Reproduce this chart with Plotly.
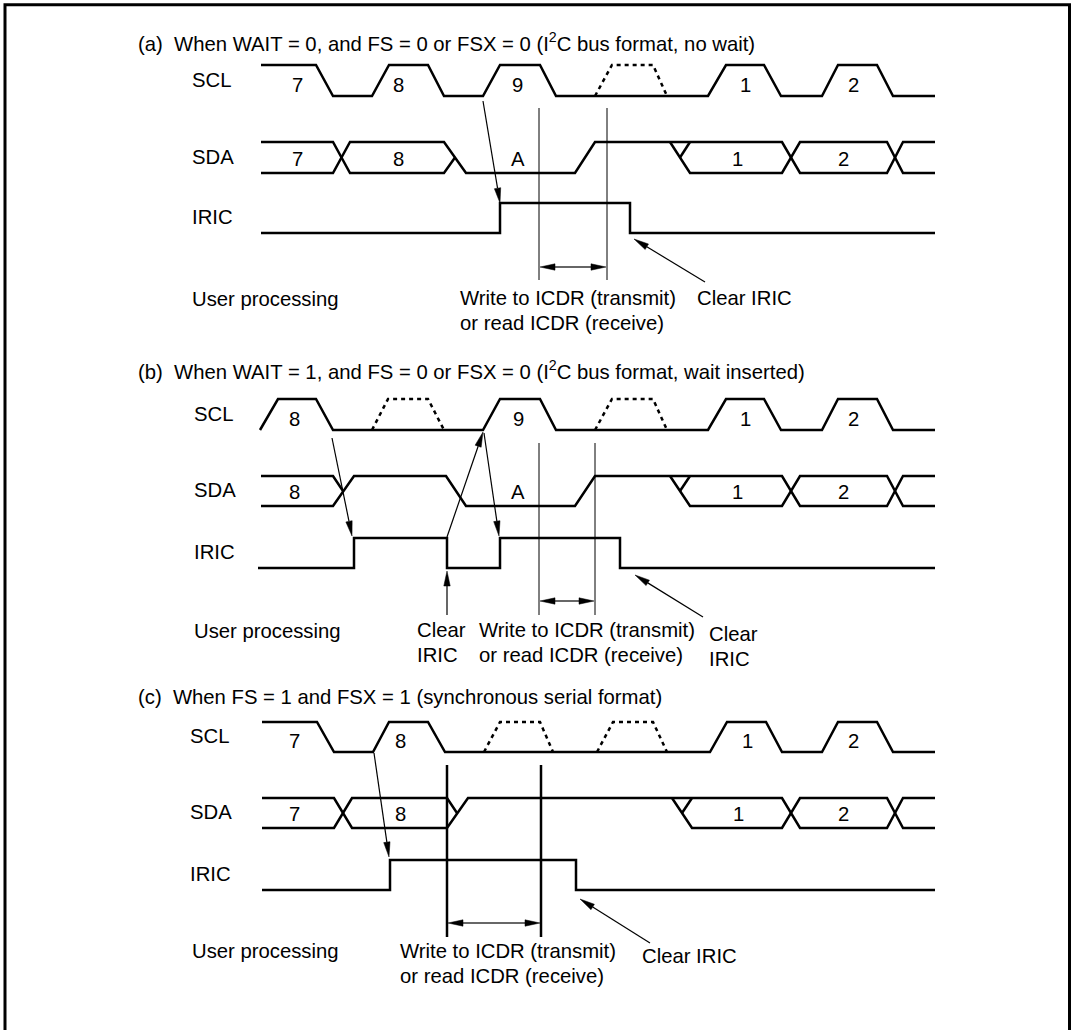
import math
import plotly.graph_objects as go

W, H = 1072, 1030

# ---------------- signal levels: (high, low) per row ----------------
LEVELS_A = {"SCL": (65, 96), "SDA": (142, 173), "IRIC": (203, 233)}
LEVELS_B = {"SCL": (399, 430), "SDA": (476, 506), "IRIC": (538, 568)}
LEVELS_C = {"SCL": (722, 752), "SDA": (798, 828), "IRIC": (860, 890)}

# ---------------- panel (a) ----------------
SCL_A_T = [261, 316, 333, 372, 389, 428, 444, 483, 500, 540, 556, 708, 726, 764, 781, 822, 838, 877, 893, 935]
SCL_A_V = [1, 1, 0, 0, 1, 1, 0, 0, 1, 1, 0, 0, 1, 1, 0, 0, 1, 1, 0, 0]
SCL_A_DASH_T = [595, 612, 653, 667]
SCL_A_DASH_V = [0, 1, 1, 0]
SCL_A_LABELS = ["7", "8", "9", "1", "2"]
SCL_A_LABEL_T = [297, 398, 517, 745, 853]

SDA_A_T = [261, 333, 350, 444, 455, None,
           261, 333, 350, 444, 466, 575, 595, 782, 800, 887, 903, 935, None,
           670, 690, 782, 800, 887, 903, 935, None,
           680, 690]
SDA_A_V = [1, 1, 0, 0, 0.5, None,
           0, 0, 1, 1, 0, 0, 1, 1, 0, 0, 1, 1, None,
           1, 0, 0, 1, 1, 0, 0, None,
           0.5, 1]
SDA_A_LABELS = ["7", "8", "A", "1", "2"]
SDA_A_LABEL_T = [297, 398, 518, 737, 843]

IRIC_A_T = [261, 500, 500, 630, 630, 935]
IRIC_A_V = [0, 0, 1, 1, 0, 0]

# ---------------- panel (b) ----------------
SCL_B_T = [260, 278, 316, 333, 483, 500, 540, 556, 708, 726, 764, 781, 822, 838, 877, 893, 935]
SCL_B_V = [0, 1, 1, 0, 0, 1, 1, 0, 0, 1, 1, 0, 0, 1, 1, 0, 0]
SCL_B_DASH_T = [372, 388, 428, 444, None, 595, 612, 653, 667]
SCL_B_DASH_V = [0, 1, 1, 0, None, 0, 1, 1, 0]
SCL_B_LABELS = ["8", "9", "1", "2"]
SCL_B_LABEL_T = [294, 518, 745, 853]

SDA_B_T = [261, 333, 343, None,
           261, 333, 354, 446, 466, 575, 595, 782, 800, 887, 903, 935, None,
           670, 690, 782, 800, 887, 903, 935, None,
           680, 690]
SDA_B_V = [1, 1, 0.5, None,
           0, 0, 1, 1, 0, 0, 1, 1, 0, 0, 1, 1, None,
           1, 0, 0, 1, 1, 0, 0, None,
           0.5, 1]
SDA_B_LABELS = ["8", "A", "1", "2"]
SDA_B_LABEL_T = [294, 518, 737, 843]

IRIC_B_T = [258, 354, 354, 447, 447, 500, 500, 620, 620, 935]
IRIC_B_V = [0, 0, 1, 1, 0, 0, 1, 1, 0, 0]

# ---------------- panel (c) ----------------
SCL_C_T = [262, 317, 334, 373, 389, 428, 445, 710, 727, 766, 782, 822, 838, 877, 893, 935]
SCL_C_V = [1, 1, 0, 0, 1, 1, 0, 0, 1, 1, 0, 0, 1, 1, 0, 0]
SCL_C_DASH_T = [484, 500, 540, 553, None, 597, 613, 653, 667]
SCL_C_DASH_V = [0, 1, 1, 0, None, 0, 1, 1, 0]
SCL_C_LABELS = ["7", "8", "1", "2"]
SCL_C_LABEL_T = [294, 400, 747, 853]

SDA_C_T = [262, 334, 352, 447, 468, 782, 800, 887, 903, 935, None,
           262, 334, 352, 447, 457, None,
           672, 692, 782, 800, 887, 903, 935, None,
           682, 692]
SDA_C_V = [1, 1, 0, 0, 1, 1, 0, 0, 1, 1, None,
           0, 0, 1, 1, 0.5, None,
           1, 0, 0, 1, 1, 0, 0, None,
           0.5, 1]
SDA_C_LABELS = ["7", "8", "1", "2"]
SDA_C_LABEL_T = [294, 400, 738, 843]

IRIC_C_T = [262, 390, 390, 576, 576, 935]
IRIC_C_V = [0, 0, 1, 1, 0, 0]

# ---------------- annotations: arrows, markers, texts ----------------
ARROWS = [  # (tail x, tail y, head x, head y)
    (483, 101, 500, 203), (705, 282, 634, 239),
    (332, 438, 352, 536), (447, 537, 483, 432), (484, 433, 499, 536),
    (447, 615, 447, 571), (703, 617, 635, 575),
    (374, 753, 389, 857), (650, 943, 580, 899),
]
DOUBLE_ARROWS = [(539, 607, 267), (539, 595, 601), (447, 541, 923)]
VLINES = [(539, 108, 280, 1), (607, 108, 280, 1),
          (539, 443, 615, 1), (595, 443, 615, 1),
          (447, 765, 937, 2.5), (541, 765, 937, 2.5)]

NB = "\u00a0"
TITLES = [
    ("(a)" + NB * 2 + "When WAIT = 0, and FS = 0 or FSX = 0 (I<sup>2</sup>C bus format, no wait)", 136, 42),
    ("(b)" + NB * 2 + "When WAIT = 1, and FS = 0 or FSX = 0 (I<sup>2</sup>C bus format, wait inserted)", 136, 370),
    ("(c)" + NB * 2 + "When FS = 1 and FSX = 1 (synchronous serial format)", 136, 697),
]
NOTES = [
    ("User processing", 190, 299), ("Write to ICDR (transmit)", 458, 298),
    ("or read ICDR (receive)", 458, 323), ("Clear IRIC", 695, 298),
    ("User processing", 192, 631), ("Clear", 415, 630), ("IRIC", 415, 655),
    ("Write to ICDR (transmit)", 477, 630), ("or read ICDR (receive)", 477, 655),
    ("Clear", 707, 634), ("IRIC", 707, 659),
    ("User processing", 190, 951), ("Write to ICDR (transmit)", 398, 951),
    ("or read ICDR (receive)", 398, 976), ("Clear IRIC", 640, 956),
]

FONT = "Liberation Sans, Arial, Helvetica, sans-serif"
FS = 20.3
LW = 2.5

fig = go.Figure()
shapes = []
annotations = []


def ylev(vals, lv):
    hi, lo = lv
    return [None if v is None else lo - v * (lo - hi) for v in vals]


def add_wave(t, v, lv, dash=None, width=LW):
    fig.add_trace(go.Scatter(x=t, y=ylev(v, lv), mode="lines", connectgaps=False,
                             line=dict(color="black", width=width, dash=dash),
                             hoverinfo="skip", showlegend=False))


def add_text(text, x, y, xanchor="left"):
    annotations.append(dict(x=x, y=y, xref="x", yref="y", text=text, showarrow=False,
                            xanchor=xanchor, yanchor="middle",
                            font=dict(family=FONT, size=FS, color="black")))


def add_arrow(x0, y0, x1, y1, hl=15, hw=3.2):
    dx, dy = x1 - x0, y1 - y0
    L = math.hypot(dx, dy)
    ux, uy = dx / L, dy / L
    bx, by = x1 - ux * hl, y1 - uy * hl
    px, py = -uy * hw, ux * hw
    shapes.append(dict(type="line", xref="x", yref="y", x0=x0, y0=y0, x1=bx, y1=by,
                       line=dict(color="black", width=1.2)))
    shapes.append(dict(type="path", xref="x", yref="y",
                       path=f"M{x1},{y1} L{bx + px},{by + py} L{bx - px},{by - py} Z",
                       fillcolor="black", line=dict(color="black", width=0.5)))


panels = [
    (LEVELS_A, SCL_A_T, SCL_A_V, SCL_A_DASH_T, SCL_A_DASH_V, SCL_A_LABELS, SCL_A_LABEL_T,
     SDA_A_T, SDA_A_V, SDA_A_LABELS, SDA_A_LABEL_T, IRIC_A_T, IRIC_A_V, 190),
    (LEVELS_B, SCL_B_T, SCL_B_V, SCL_B_DASH_T, SCL_B_DASH_V, SCL_B_LABELS, SCL_B_LABEL_T,
     SDA_B_T, SDA_B_V, SDA_B_LABELS, SDA_B_LABEL_T, IRIC_B_T, IRIC_B_V, 192),
    (LEVELS_C, SCL_C_T, SCL_C_V, SCL_C_DASH_T, SCL_C_DASH_V, SCL_C_LABELS, SCL_C_LABEL_T,
     SDA_C_T, SDA_C_V, SDA_C_LABELS, SDA_C_LABEL_T, IRIC_C_T, IRIC_C_V, 188),
]

for (lv, st, sv, sdt, sdv, slab, slt, dt, dv, dlab, dlt, it, iv, labx) in panels:
    add_wave(st, sv, lv["SCL"])
    add_wave(sdt, sdv, lv["SCL"], dash="4px,4px")
    add_wave(dt, dv, lv["SDA"])
    add_wave(it, iv, lv["IRIC"])
    for name in ("SCL", "SDA", "IRIC"):
        hi, lo = lv[name]
        add_text(name, labx, (hi + lo) / 2 - 1)
    hi, lo = lv["SCL"]
    for lab, x in zip(slab, slt):
        add_text(lab, x, (hi + lo) / 2 + 4, "center")
    hi, lo = lv["SDA"]
    for lab, x in zip(dlab, dlt):
        add_text(lab, x, (hi + lo) / 2 + 1, "center")

for (x, y0, y1, w) in VLINES:
    shapes.append(dict(type="line", xref="x", yref="y", x0=x, y0=y0, x1=x, y1=y1,
                       line=dict(color="black", width=w)))

for a in ARROWS:
    add_arrow(*a)

for (xa, xb, y) in DOUBLE_ARROWS:
    mid = (xa + xb) / 2
    add_arrow(mid, y, xa + 1, y)
    add_arrow(mid, y, xb - 1, y)

for (t, x, y) in TITLES:
    add_text(t, x, y)
for (t, x, y) in NOTES:
    add_text(t, x, y)

# outer frame
shapes.append(dict(type="rect", xref="paper", yref="paper", x0=5 / W, x1=1069.5 / W,
                   y0=-0.02, y1=1 - 4.7 / H, line=dict(color="black", width=3)))

fig.update_layout(
    width=W, height=H, margin=dict(l=0, r=0, t=0, b=0),
    paper_bgcolor="white", plot_bgcolor="white",
    xaxis=dict(range=[0, W], visible=False, fixedrange=True),
    yaxis=dict(range=[H, 0], visible=False, fixedrange=True),
    shapes=shapes, annotations=annotations, showlegend=False,
)

fig.write_html("out.html", config={"displayModeBar": False},
               post_script="document.body.style.margin='0';document.body.style.overflow='hidden';")
